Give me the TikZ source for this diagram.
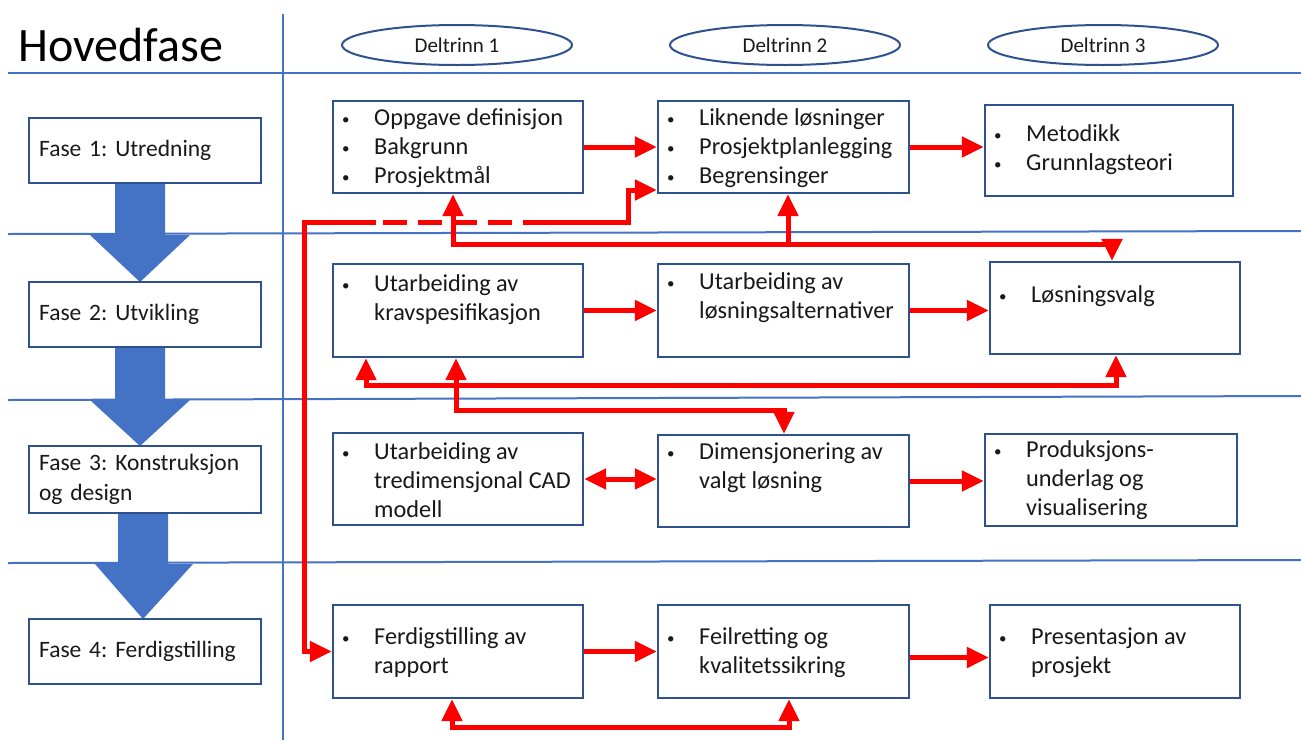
\documentclass[tikz,border=0pt]{standalone}
\usepackage{fontspec}
\setmainfont{Carlito}
\usetikzlibrary{arrows.meta,fit,shapes.geometric}
\definecolor{gridblue}{RGB}{68,114,196}
\definecolor{boxblue}{RGB}{47,82,143}
\definecolor{arrred}{RGB}{255,0,0}
\definecolor{textc}{RGB}{25,25,25}
\frenchspacing
\newcommand\bitem[1]{\makebox[32pt][l]{\raisebox{1.5pt}{\fontsize{15}{15}\selectfont\textbullet}}#1\strut}
\newcommand\boxat[5]{\path (#2,#3) coordinate (#1a) (#4,#5) coordinate (#1b); \node[box, fit=(#1a)(#1b)] (#1) {};}
\begin{document}
\begin{tikzpicture}[x=1pt,y=-1pt,
  grid/.style={draw=gridblue,line width=2pt},
  box/.style={draw=boxblue,line width=2.2pt,inner sep=0pt,fill=white},
  fasebox/.style={draw=boxblue,line width=2.2pt,fill=white,minimum width=232pt,minimum height=65pt,
     text width=212pt,inner xsep=10pt,inner ysep=0pt,align=left,font=\fontsize{23.5}{30}\selectfont,text=textc},
  txt/.style={anchor=north west,inner sep=0pt,align=left,font=\fontsize{24.3}{29}\selectfont,text=textc},
  ell/.style={ellipse,draw=boxblue,line width=2pt,minimum width=230pt,minimum height=40pt,inner sep=0pt,
     font=\fontsize{21}{25}\selectfont,text=textc},
  rl/.style={draw=arrred,line width=5pt},
  ra/.style={rl,-{Triangle[length=22pt,width=20pt]}},
  rb/.style={rl,{Triangle[length=22pt,width=20pt]}-{Triangle[length=22pt,width=20pt]}},
  blockarrow/.style={fill=gridblue}
]
\useasboundingbox (0,0) rectangle (1301,740);
\fill[white] (0,0) rectangle (1301,740);

% grid
\draw[grid] (8,73) -- (1301,73);
\draw[grid] (8,234) -- (1301,231);
\draw[grid] (8,400) -- (1301,396);
\draw[grid] (8,563) -- (1301,560);
\draw[grid] (283,14) -- (283,740);

% title and column heads
\node[anchor=west,inner sep=0pt,font=\fontsize{48}{54}\selectfont,text=black] (title) at (18,45) {Hovedfase};
\node[ell] (d1) at (457,45) {Deltrinn 1};
\node[ell] (d2) at (785,45) {Deltrinn 2};
\node[ell] (d3) at (1103,45) {Deltrinn 3};

% block arrows (drawn under the phase boxes)
\fill[blockarrow] (115,180) -- (165,180) -- (165,235) -- (190,235) -- (140,282) -- (90,235) -- (115,235) -- cycle;
\fill[blockarrow] (115,343) -- (165,343) -- (165,400) -- (190,400) -- (140,446) -- (90,400) -- (115,400) -- cycle;
\fill[blockarrow] (118,510) -- (168,510) -- (168,564) -- (193,564) -- (143,619) -- (95,564) -- (118,564) -- cycle;

% phase boxes
\node[fasebox,anchor=north west] (f1) at (28,117) {Fase 1: Utredning};
\node[fasebox,anchor=north west] (f2) at (28,281) {Fase 2: Utvikling};
\node[fasebox,anchor=north west,minimum height=67pt] (f3) at (28,445) {Fase 3: Konstruksjon\\og design};
\node[fasebox,anchor=north west] (f4) at (28,618) {Fase 4: Ferdigstilling};

% task boxes
\boxat{b11}{333}{101}{583}{193}
\boxat{b12}{658}{101}{909}{193}
\boxat{b13}{985}{105}{1233}{196}
\boxat{b21}{333}{264}{583}{357}
\boxat{b22}{658}{264}{909}{357}
\boxat{b23}{990}{262}{1240}{354}
\boxat{b31}{333}{433}{583}{525}
\boxat{b32}{658}{435}{909}{527}
\boxat{b33}{985}{434}{1237}{526}
\boxat{b41}{333}{605}{583}{698}
\boxat{b42}{658}{605}{909}{698}
\boxat{b43}{990}{605}{1240}{698}

% box texts
\node[txt] (t11) at (342,105) {\bitem{Oppgave definisjon}\\\bitem{Bakgrunn}\\\bitem{Prosjektmål}};
\node[txt] (t12) at (667,105) {\bitem{Liknende løsninger}\\\bitem{Prosjektplanlegging}\\\bitem{Begrensinger}};
\node[txt] (t13) at (994,121) {\bitem{Metodikk}\\\bitem{Grunnlagsteori}};
\node[txt] (t21) at (342,271) {\bitem{Utarbeiding av}\\\makebox[32pt]{}kravspesifikasjon\strut};
\node[txt] (t22) at (667,269) {\bitem{Utarbeiding av}\\\makebox[32pt]{}løsningsalternativer\strut};
\node[txt] (t23) at (999,282) {\bitem{Løsningsvalg}};
\node[txt] (t31) at (342,439) {\bitem{Utarbeiding av}\\\makebox[32pt]{}tredimensjonal CAD\strut\\\makebox[32pt]{}modell\strut};
\node[txt] (t32) at (667,439) {\bitem{Dimensjonering av}\\\makebox[32pt]{}valgt løsning\strut};
\node[txt] (t33) at (994,437) {\bitem{Produksjons-}\\\makebox[32pt]{}underlag og\strut\\\makebox[32pt]{}visualisering\strut};
\node[txt] (t41) at (342,624) {\bitem{Ferdigstilling av}\\\makebox[32pt]{}rapport\strut};
\node[txt] (t42) at (667,624) {\bitem{Feilretting og}\\\makebox[32pt]{}kvalitetssikring\strut};
\node[txt] (t43) at (999,624) {\bitem{Presentasjon av}\\\makebox[32pt]{}prosjekt\strut};

% red connectors: horizontal flow
\draw[ra] (b11.east) -- (b11.east -| b12.west);
\draw[ra] (b12.east) -- (b12.east -| b13.west);
\draw[ra] (b21.east) -- (b21.east -| b22.west);
\draw[ra] (b22.east) -- (b22.east -| b23.west);
\draw[rb] (b31.east) -- (b31.east -| b32.west);
\draw[ra] (b32.east) -- (b32.east -| b33.west);
\draw[ra] (b41.east) -- (b41.east -| b42.west);
\draw[ra] ([yshift=-6pt]b42.east) -- ([yshift=-6pt]b42.east -| b43.west);

% long return path (report) with dashed part
\coordinate (p1) at (304,222);
\coordinate (p2) at (376,222);
\coordinate (p3) at (527,222);
\coordinate (p4) at (628,222);
\coordinate (p5) at (628,190);
\draw[ra] (p2) -- (p1) |- (b41.west);
\draw[rl,dash pattern=on 24pt off 11pt,dash phase=-7pt] (p2) -- (p3);
\draw[ra] (p3) -- (p4) -- (p5) -- (p5 -| b12.west);

% feedback between row 1 and row 2
\coordinate (h1) at (453,244);
\coordinate (h2) at (788,244);
\coordinate (h3) at (1112,244);
\draw[rb] (h1 |- b11.south) -- (h1) -- (h3) -- (h3 |- b23.north);
\draw[ra] (h2) -- (h2 |- b12.south);

% feedback in row 2
\coordinate (k1) at (366,385);
\coordinate (k2) at (1116,385);
\draw[rb] (k1 |- b21.south) -- (k1) -- (k2) -- (k2 |- b23.south);

% row 2 to row 3
\coordinate (m1) at (456,410);
\coordinate (m2) at (784,410);
\draw[rb] (m1 |- b21.south) -- (m1) -- (m2) -- (m2 |- b32.north);

% row 4 loop
\coordinate (n1) at (452,727);
\coordinate (n2) at (789,727);
\draw[rb] (n1 |- b41.south) -- (n1) -- (n2) -- (n2 |- b42.south);
\end{tikzpicture}
\end{document}
